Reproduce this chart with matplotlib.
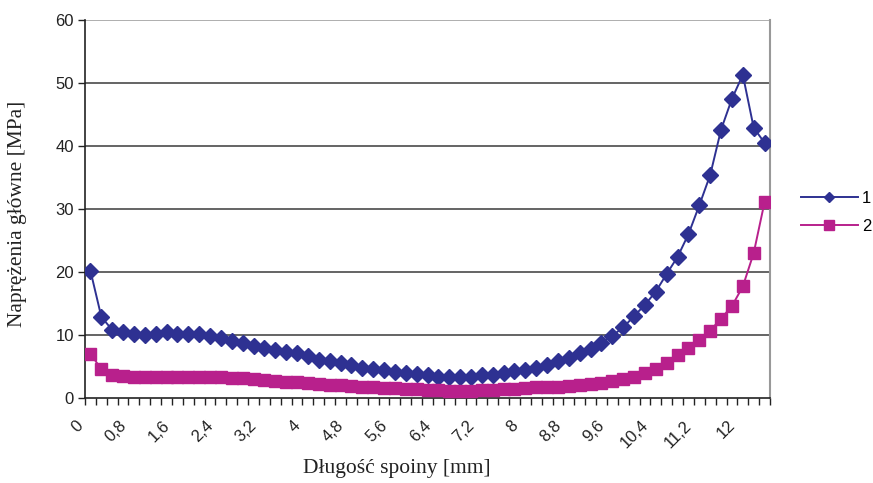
import numpy as np
import matplotlib.pyplot as plt
import matplotlib.transforms as mtransforms
from matplotlib.lines import Line2D

# Naprężenia główne wzdłuż spoiny, krok 0,2 mm
dlugosc = [round(0.2 * i, 1) for i in range(63)]

seria_1 = [20.2, 12.9, 10.8, 10.4, 10.1, 10.0, 10.1, 10.4, 10.1, 10.2,
           10.1, 9.8, 9.5, 9.1, 8.7, 8.3, 8.0, 7.6, 7.3, 7.1,
           6.7, 6.1, 5.8, 5.5, 5.2, 4.8, 4.6, 4.4, 4.2, 4.0,
           3.8, 3.6, 3.4, 3.4, 3.3, 3.4, 3.6, 3.6, 4.0, 4.3,
           4.5, 4.8, 5.3, 5.8, 6.4, 7.1, 7.8, 8.8, 9.9, 11.2,
           13.0, 14.8, 16.9, 19.7, 22.4, 26.0, 30.6, 35.4, 42.6, 47.5,
           51.3, 42.9, 40.5]

seria_2 = [7.0, 4.6, 3.7, 3.5, 3.4, 3.4, 3.4, 3.4, 3.4, 3.4,
           3.4, 3.4, 3.3, 3.2, 3.1, 3.0, 2.9, 2.7, 2.6, 2.5,
           2.4, 2.3, 2.1, 2.0, 1.9, 1.8, 1.7, 1.6, 1.6, 1.5,
           1.4, 1.3, 1.2, 1.1, 1.1, 1.1, 1.2, 1.3, 1.4, 1.5,
           1.6, 1.7, 1.8, 1.8, 1.9, 2.0, 2.2, 2.4, 2.7, 3.0,
           3.4, 3.9, 4.6, 5.5, 6.8, 7.9, 9.2, 10.7, 12.6, 14.6,
           17.7, 23.0, 31.1]

etykiety_x = ['{:g}'.format(v).replace('.', ',') for v in dlugosc[::4]]

kolor_1 = '#2E3192'
kolor_2 = '#B8208C'

fig = plt.figure(figsize=(8.73, 4.83), dpi=100)
ax = fig.add_axes([85 / 873, 1 - 398 / 483, 685 / 873, 378 / 483])

x = np.arange(len(dlugosc))
ax.plot(x, seria_1, color=kolor_1, marker='D', markersize=8, lw=1.4, zorder=3)
ax.plot(x, seria_2, color=kolor_2, marker='s', markersize=9, lw=1.4, zorder=3)

ax.set_xlim(-0.5, len(dlugosc) - 0.5)
ax.set_ylim(0, 60)
ax.set_yticks(range(0, 61, 10))
for yv in range(10, 61, 10):
    ax.axhline(yv, color='#3a3a3a' if yv < 60 else '#999999', lw=1.1, zorder=1)

# etykiety osi x obrócone o 45 stopni, przesunięte jak w Excelu
ax.set_xticks([])
ax.set_xticks(np.arange(-0.5, len(dlugosc)), minor=True)
przesun = mtransforms.ScaledTranslation(-10 / 100, -25 / 100, fig.dpi_scale_trans)
tr = ax.get_xaxis_transform() + przesun
for xi, et in zip(x[::4], etykiety_x):
    ax.text(xi, 0, et, transform=tr, rotation=45, ha='right', va='center',
            rotation_mode='anchor', fontsize=12, family='Liberation Sans',
            color='#222222', clip_on=False)

ax.tick_params(axis='x', which='minor', length=5, width=1, direction='out', color='#222222')
ax.tick_params(axis='y', length=5, width=1, direction='out', pad=3, color='#222222')
for lab in ax.get_yticklabels():
    lab.set_fontsize(12)
    lab.set_family('Liberation Sans')
    lab.set_color('#222222')

for s in ['left', 'bottom']:
    ax.spines[s].set_color('#222222')
    ax.spines[s].set_linewidth(1.2)
ax.spines['top'].set_visible(False)
ax.spines['right'].set_color('#999999')
ax.spines['right'].set_linewidth(1.5)

fig.text(397 / 873, 1 - 468 / 483, 'Długość spoiny [mm]', ha='center', va='center',
         fontsize=15.5, family='Liberation Serif', color='#222222')
fig.text(18 / 873, 1 - 214 / 483, 'Naprężenia główne [MPa]', ha='center', va='center',
         rotation=90, fontsize=15.5, family='Liberation Serif', color='#222222')

uchwyty = [Line2D([], [], color=kolor_1, marker='D', markersize=4.8, lw=1.4),
           Line2D([], [], color=kolor_2, marker='s', markersize=7.2, lw=1.4)]
fig.legend(uchwyty, ['1', '2'], loc='upper left',
           bbox_to_anchor=(801 / 873, 1 - 191 / 483), frameon=False, borderpad=0,
           borderaxespad=0, handlelength=3.4, handletextpad=0.25, labelspacing=0.78,
           prop={'family': 'Liberation Sans', 'size': 12})

fig.savefig('out.png', dpi=100)
